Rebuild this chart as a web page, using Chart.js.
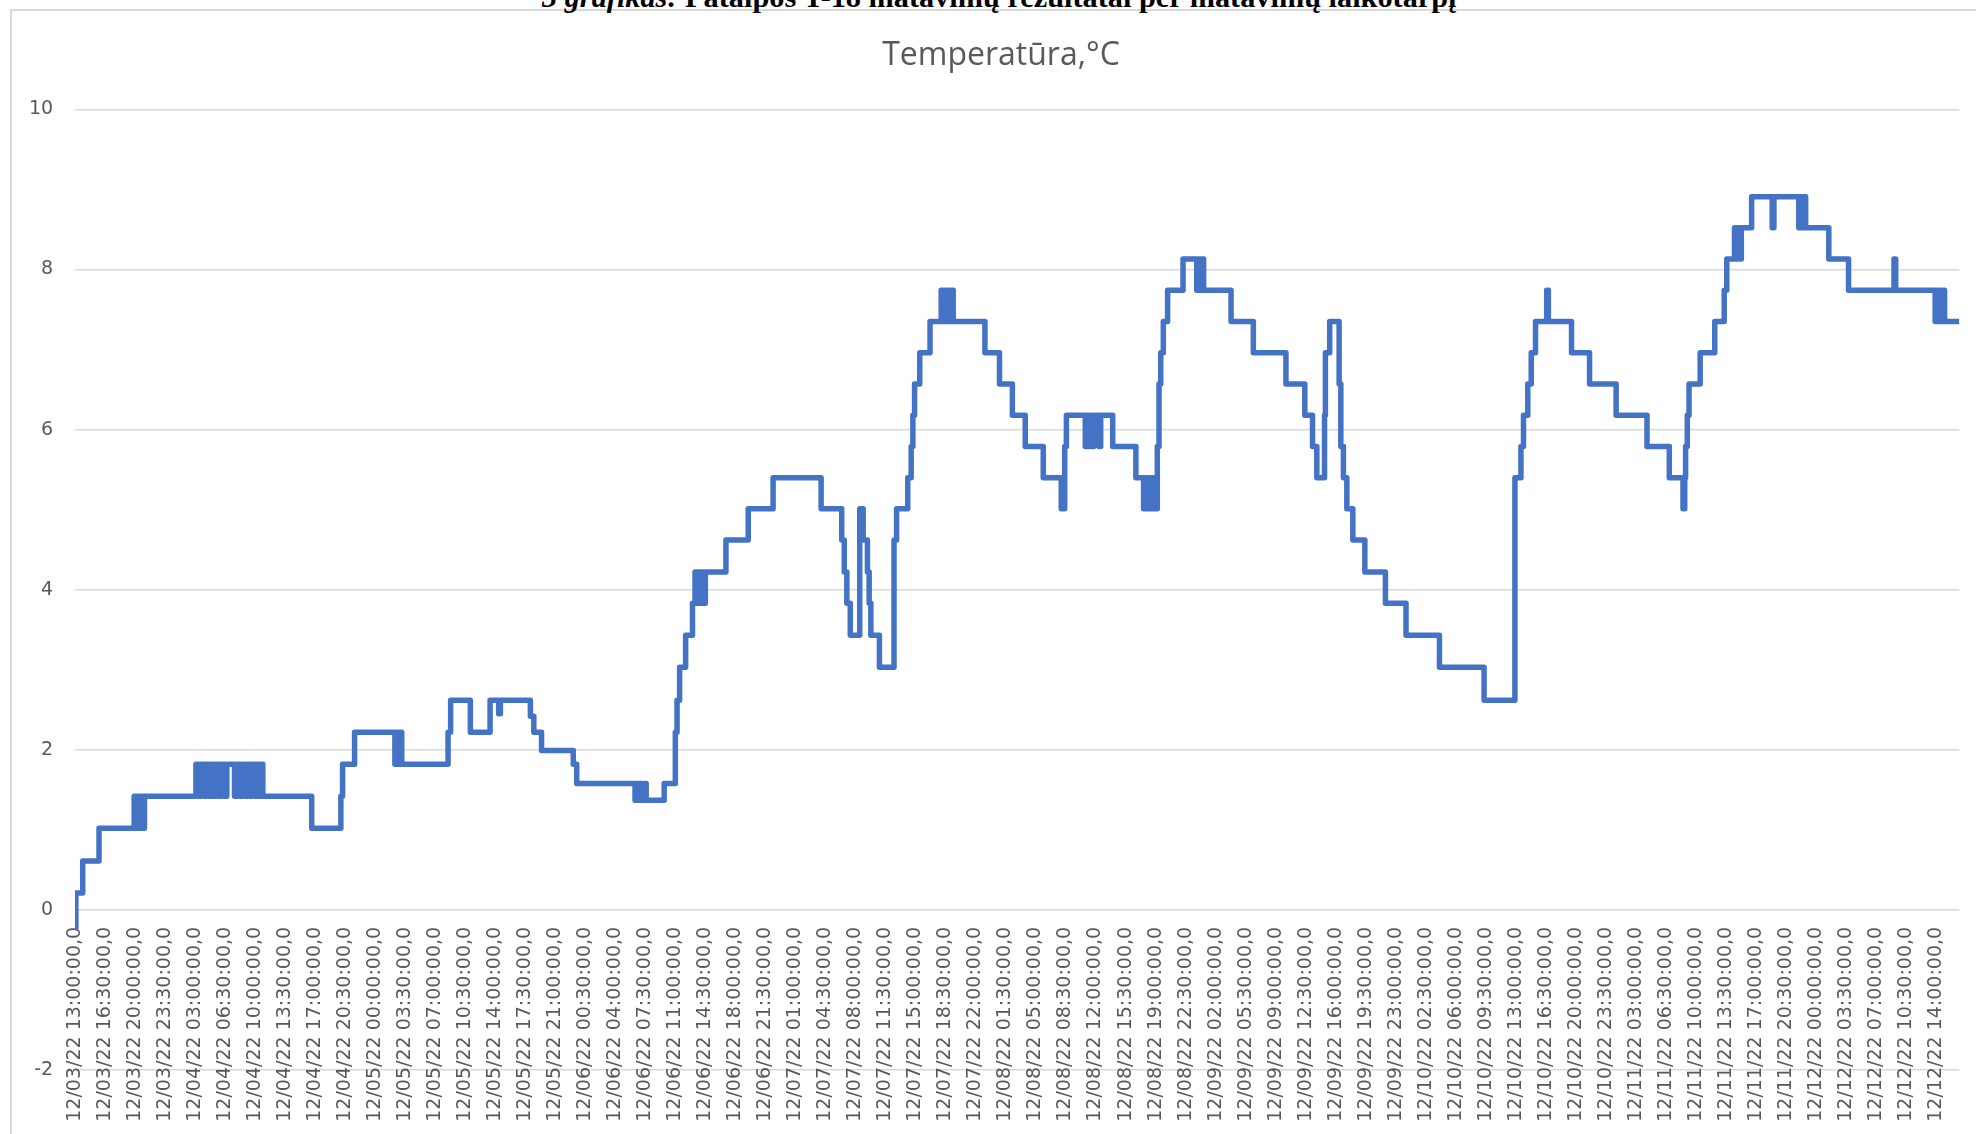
<!DOCTYPE html>
<html>
<head>
<meta charset="utf-8">
<script src="https://cdn.jsdelivr.net/npm/chart.js@4.4.0/dist/chart.umd.min.js"></script>
<style>
  html, body { margin: 0; padding: 0; background: #fff; overflow: hidden; }
  #frame {
    position: absolute; left: 10px; top: 9px; width: 2100px; height: 1300px;
    border-left: 2px solid #d9d9d9; border-top: 2px solid #d9d9d9;
  }
  #caption {
    position: absolute; left: 542px; top: -18px; white-space: nowrap;
    font-family: "Liberation Serif", serif; font-size: 30.3px; line-height: 30px;
    font-weight: bold; color: #000;
  }
  #q1Chart { position: absolute; left: 0; top: 0; }
</style>
</head>
<body>
<div id="frame"></div>
<div id="caption"><i>3 grafikas:</i> Patalpos T-18 matavimų rezultatai per matavimų laikotarpį</div>
<canvas id="q1Chart" width="1976" height="1134"></canvas>
<script>
// axis labels, one every 3.5 h starting 12/03/22 13:00
const tickLabels = [
  '12/03/22 13:00:00,0', '12/03/22 16:30:00,0', '12/03/22 20:00:00,0', '12/03/22 23:30:00,0',
  '12/04/22 03:00:00,0', '12/04/22 06:30:00,0', '12/04/22 10:00:00,0', '12/04/22 13:30:00,0',
  '12/04/22 17:00:00,0', '12/04/22 20:30:00,0',
  '12/05/22 00:00:00,0', '12/05/22 03:30:00,0', '12/05/22 07:00:00,0', '12/05/22 10:30:00,0',
  '12/05/22 14:00:00,0', '12/05/22 17:30:00,0', '12/05/22 21:00:00,0',
  '12/06/22 00:30:00,0', '12/06/22 04:00:00,0', '12/06/22 07:30:00,0', '12/06/22 11:00:00,0',
  '12/06/22 14:30:00,0', '12/06/22 18:00:00,0', '12/06/22 21:30:00,0',
  '12/07/22 01:00:00,0', '12/07/22 04:30:00,0', '12/07/22 08:00:00,0', '12/07/22 11:30:00,0',
  '12/07/22 15:00:00,0', '12/07/22 18:30:00,0', '12/07/22 22:00:00,0',
  '12/08/22 01:30:00,0', '12/08/22 05:00:00,0', '12/08/22 08:30:00,0', '12/08/22 12:00:00,0',
  '12/08/22 15:30:00,0', '12/08/22 19:00:00,0', '12/08/22 22:30:00,0',
  '12/09/22 02:00:00,0', '12/09/22 05:30:00,0', '12/09/22 09:00:00,0', '12/09/22 12:30:00,0',
  '12/09/22 16:00:00,0', '12/09/22 19:30:00,0', '12/09/22 23:00:00,0',
  '12/10/22 02:30:00,0', '12/10/22 06:00:00,0', '12/10/22 09:30:00,0', '12/10/22 13:00:00,0',
  '12/10/22 16:30:00,0', '12/10/22 20:00:00,0', '12/10/22 23:30:00,0',
  '12/11/22 03:00:00,0', '12/11/22 06:30:00,0', '12/11/22 10:00:00,0', '12/11/22 13:30:00,0',
  '12/11/22 17:00:00,0', '12/11/22 20:30:00,0',
  '12/12/22 00:00:00,0', '12/12/22 03:30:00,0', '12/12/22 07:00:00,0', '12/12/22 10:30:00,0',
  '12/12/22 14:00:00,0'
];
const labelStep = 3.5;      // hours between labels
const lastHour = 219.7;     // last reading, hours after 12/03 13:00

// readings as [hours since start, °C]; each pair is where the value changes
const tempSteps = [
  [0, -0.22], [0.1, 0.21], [0.9, 0.61], [2.8, 1.02],
  [6.9, 1.42], [7.1, 1.02], [7.3, 1.42], [7.5, 1.02], [7.7, 1.42], [7.9, 1.02], [8.1, 1.42],
  [14.1, 1.82], [14.4, 1.42], [14.7, 1.82], [15.0, 1.42], [15.3, 1.82], [15.6, 1.42], [15.9, 1.82],
  [16.2, 1.42], [16.5, 1.82], [16.8, 1.42], [17.1, 1.82], [17.4, 1.42], [17.7, 1.82],
  [18.6, 1.42], [18.9, 1.82], [19.2, 1.42], [19.5, 1.82], [19.8, 1.42], [20.1, 1.82], [20.4, 1.42],
  [20.7, 1.82], [21.0, 1.42], [21.3, 1.82], [21.6, 1.42], [21.8, 1.82], [21.9, 1.42],
  [27.6, 1.02], [31.0, 1.42], [31.2, 1.82], [32.6, 2.22],
  [37.3, 1.82], [37.5, 2.22], [37.7, 1.82], [37.9, 2.22], [38.1, 1.82],
  [43.5, 2.22], [43.8, 2.62], [46.1, 2.22], [48.4, 2.62], [49.4, 2.45], [49.6, 2.62],
  [53.1, 2.42], [53.5, 2.22], [54.4, 1.99], [58.1, 1.82], [58.5, 1.58],
  [65.3, 1.37], [65.5, 1.58], [65.7, 1.37], [65.9, 1.58], [66.1, 1.37], [66.4, 1.58], [66.6, 1.37],
  [68.7, 1.58],
  [70.0, 2.22], [70.2, 2.62], [70.5, 3.03], [71.2, 3.43], [72.0, 3.83],
  [72.3, 4.22], [72.5, 3.83], [72.7, 4.22], [72.9, 3.83], [73.1, 4.22], [73.3, 3.83], [73.5, 4.22],
  [75.9, 4.62], [78.5, 5.01], [81.4, 5.40], [87.0, 5.01],
  [89.4, 4.62], [89.7, 4.22], [90.0, 3.83], [90.4, 3.43],
  [91.5, 5.01], [91.9, 4.62], [92.4, 4.22], [92.6, 3.83], [92.8, 3.43], [93.8, 3.03],
  [95.5, 4.62], [95.8, 5.01], [97.1, 5.40], [97.5, 5.79], [97.7, 6.18], [97.9, 6.57], [98.5, 6.96],
  [99.7, 7.35],
  [101.0, 7.74], [101.2, 7.35], [101.4, 7.74], [101.6, 7.35], [101.8, 7.74], [102.0, 7.35], [102.2, 7.74],
  [102.4, 7.35],
  [106.1, 6.96], [107.8, 6.57], [109.3, 6.18], [110.8, 5.79], [112.9, 5.40], [115.0, 5.01],
  [115.4, 5.79], [115.6, 6.18],
  [117.8, 5.79], [118.0, 6.18], [118.2, 5.79], [118.4, 6.18], [118.6, 5.79], [118.8, 6.18],
  [119.4, 5.79], [119.6, 6.18],
  [121.0, 5.79], [123.7, 5.40],
  [124.6, 5.01], [124.8, 5.40], [125.0, 5.01], [125.2, 5.40], [125.4, 5.01], [125.7, 5.40], [125.9, 5.01],
  [126.2, 5.79], [126.4, 6.57], [126.6, 6.96], [126.9, 7.35], [127.4, 7.74], [129.2, 8.13],
  [130.8, 7.74], [131.0, 8.13], [131.2, 7.74], [131.4, 8.13], [131.6, 7.74],
  [134.8, 7.35], [137.4, 6.96], [141.2, 6.57], [143.4, 6.18], [144.3, 5.79], [144.8, 5.40],
  [145.7, 6.18], [145.8, 6.96], [146.3, 7.35],
  [147.4, 6.57], [147.6, 5.79], [147.9, 5.40], [148.3, 5.01], [149.0, 4.62], [150.4, 4.22],
  [152.8, 3.83], [155.2, 3.43], [159.1, 3.03], [164.3, 2.62],
  [167.9, 5.40], [168.6, 5.79], [168.9, 6.18], [169.4, 6.57], [169.8, 6.96], [170.3, 7.35],
  [171.6, 7.74], [171.8, 7.35],
  [174.5, 6.96], [176.6, 6.57], [179.7, 6.18], [183.3, 5.79], [185.9, 5.40], [187.5, 5.01],
  [187.7, 5.40], [187.8, 5.79], [188.0, 6.18], [188.2, 6.57],
  [189.5, 6.96], [191.2, 7.35], [192.3, 7.74], [192.6, 8.13],
  [193.5, 8.52], [193.7, 8.13], [193.9, 8.52], [194.1, 8.13], [194.3, 8.52],
  [195.5, 8.91], [197.9, 8.52], [198.1, 8.91],
  [201.0, 8.52], [201.2, 8.91], [201.4, 8.52], [201.6, 8.91], [201.8, 8.52],
  [204.5, 8.13], [206.8, 7.74], [212.1, 8.13], [212.3, 7.74],
  [216.9, 7.35], [217.1, 7.74], [217.3, 7.35], [217.5, 7.74], [217.7, 7.35], [217.9, 7.74], [218.0, 7.35],
  [219.7, 7.35]
];

const tickFont = { family: 'DejaVu Sans', size: 19 };

const ctx = document.getElementById('q1Chart').getContext('2d');
const myChart = new Chart(ctx, {
    type: 'line',
    data: {
        datasets: [{
            label: 'Temperatūra,°C',
            data: tempSteps.map(([h, t]) => ({ x: h, y: t })),
            stepped: true,
            borderColor: '#4472c4',
            borderWidth: 5.5,
            borderJoinStyle: 'round',
            borderCapStyle: 'round',
            pointRadius: 0,
            fill: false
        }]
    },
    options: {
        responsive: false,
        animation: false,
        layout: { padding: { left: 41, right: 15, top: 1, bottom: 64 } },
        plugins: {
            legend: { display: false },
            tooltip: { enabled: false },
            title: {
                display: true,
                text: 'Temperatūra,°C',
                color: '#595959',
                font: { family: 'Open Sans', size: 32, weight: 'normal' },
                padding: { top: 36, bottom: 34 }
            }
        },
        scales: {
            x: {
                type: 'linear',
                position: { y: 0 },
                min: 0,
                max: lastHour,
                grid: { display: false, drawTicks: false },
                border: { display: false },
                ticks: {
                    stepSize: labelStep,
                    includeBounds: false,
                    autoSkip: false,
                    minRotation: 90,
                    maxRotation: 90,
                    padding: 17,
                    color: '#595959',
                    font: tickFont,
                    callback: (value) => tickLabels[Math.round(value / labelStep)] || ''
                }
            },
            y: {
                min: -2,
                max: 10,
                grid: { color: '#d9d9d9', lineWidth: 1.5, drawTicks: false },
                border: { display: false },
                ticks: {
                    stepSize: 2,
                    // mirrored + negative padding: right-aligned labels sitting left of the plot,
                    // without being clipped to the narrow axis box
                    mirror: true,
                    crossAlign: 'far',
                    padding: -46,
                    color: '#595959',
                    font: tickFont
                },
                afterFit: (scale) => { scale.width = 34; }
            }
        }
    }
});
</script>
</body>
</html>
